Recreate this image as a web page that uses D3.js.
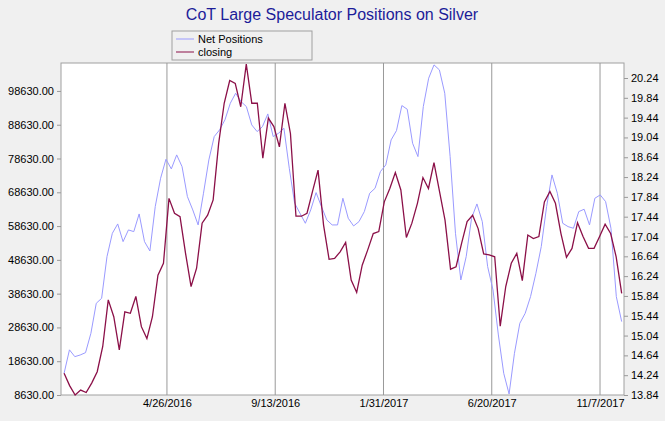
<!DOCTYPE html><html><head><meta charset="utf-8"><script src="https://cdn.jsdelivr.net/npm/d3@7"></script>
<style>body{margin:0;background:#f0f0f0}text{font-family:Arial,"Liberation Sans",sans-serif}</style></head><body><svg id="c" width="665" height="421"></svg><script>
const title="CoT Large Speculator Positions on Silver";
const seriesNames=["Net Positions","closing"];
const xTickDates=["4/26/2016","9/13/2016","1/31/2017","6/20/2017","11/7/2017"];
const leftTicks=[8630,18630,28630,38630,48630,58630,68630,78630,88630,98630];
const rightTicks=[13.84,14.24,14.64,15.04,15.44,15.84,16.24,16.64,17.04,17.44,17.84,18.24,18.64,19.04,19.44,19.84,20.24];
const startDate="12/15/2015", endDate="12/5/2017";
const netPositions=[15046,22000,19980,20474,21165,26890,35770,37250,49590,56500,59260,54030,57490,56990,62220,54030,51270,64400,72790,78410,75550,79700,76240,67360,63410,58970,68350,78220,85120,87100,90060,94990,97950,95480,94000,88580,86600,88080,91830,85120,86110,87590,75750,65380,62420,59460,63410,68540,64400,60450,58970,58970,66860,60940,58670,
59950,62920,68350,69820,74760,76730,84140,86900,94300,93220,83150,79200,94000,102400,106340,104860,97950,79200,56500,42680,49590,60940,65180,59950,46630,39720,26400,15050,8930,20970,29850,32810,37750,44650,52550,64400,73770,68350,59460,58470,57980,62920,63610,58970,66860,67850,65880,57980,37750,30350];
const closing=[14.28,14.03,13.84,13.94,13.89,14.08,14.31,14.82,15.76,15.42,14.75,15.52,15.49,15.83,15.22,14.98,15.42,16.26,16.50,17.81,17.51,17.44,16.70,16.03,16.40,17.31,17.47,17.78,18.92,19.73,20.19,20.13,19.66,20.52,19.73,19.73,18.62,19.43,19.26,18.85,19.73,19.12,17.45,17.45,17.51,17.95,18.38,17.27,16.58,16.60,16.73,16.92,16.16,15.91,
16.46,16.77,17.10,17.14,17.74,18.01,18.33,17.98,17.02,17.31,17.71,18.23,18.01,18.53,17.95,17.37,16.38,16.43,16.90,17.34,17.47,17.20,16.69,16.67,16.63,15.23,16.03,16.50,16.70,16.15,17.07,17.00,17.04,17.74,17.95,17.71,17.10,16.62,16.80,17.32,17.04,16.80,16.80,17.04,17.29,17.10,16.63,15.89];
const P=d3.timeParse("%m/%d/%Y");
const svg=d3.select("#c");
const L=61,R=624,T=63,B=395;
svg.append("rect").attr("x",L).attr("y",T).attr("width",R-L).attr("height",B-T).attr("fill","#fff").attr("stroke","#a0a0a0");
const x=d3.scaleTime().domain([P("12/11/2015"),P("12/8/2017")]).range([L,R]);
const yL=d3.scaleLinear().domain([8630,8630+332*296]).range([B,T]);
const yR=d3.scaleLinear().domain([13.84,13.84+332*0.02019]).range([B,T]);
const s=P(startDate).getTime(),e=P(endDate).getTime();
const dateAt=(i,n)=>new Date(s+(e-s)*i/(n-1));
xTickDates.forEach(d=>{const xx=x(P(d));svg.append("line").attr("x1",xx).attr("x2",xx).attr("y1",T).attr("y2",B).attr("stroke","#999");});
const gx=svg.append("g").attr("transform",`translate(0,${B})`).call(d3.axisBottom(x).tickValues(xTickDates.map(P)).tickFormat(d3.timeFormat("%-m/%-d/%Y")).tickSize(0).tickPadding(4));
gx.select(".domain").remove();
const gl=svg.append("g").attr("transform",`translate(${L},0)`).call(d3.axisLeft(yL).tickValues(leftTicks).tickFormat(d3.format(".2f")).tickSize(4));
gl.select(".domain").remove();
const gr=svg.append("g").attr("transform",`translate(${R},0)`).call(d3.axisRight(yR).tickValues(rightTicks).tickFormat(d3.format(".2f")).tickSize(4));
gr.select(".domain").remove();
svg.selectAll(".tick text").attr("font-size",11).attr("fill","#000").attr("font-family","Arial,Liberation Sans");
svg.selectAll(".tick line").attr("stroke","#999");
svg.append("path").datum(netPositions).attr("fill","none").attr("stroke","#9a9aff").attr("stroke-width",1)
 .attr("d",d3.line().x((d,i)=>x(dateAt(i,netPositions.length))).y(d=>yL(d)));
svg.append("path").datum(closing).attr("fill","none").attr("stroke","#8b1048").attr("stroke-width",1.3)
 .attr("d",d3.line().x((d,i)=>x(dateAt(i,closing.length))).y(d=>yR(d)));
svg.append("text").attr("x",332).attr("y",20).attr("text-anchor","middle").attr("font-size",16).attr("fill","#1c1c99").text(title);
const lg=svg.append("g").attr("transform","translate(172,31)");
lg.append("rect").attr("width",140).attr("height",29).attr("fill","#f0f0f0").attr("stroke","#a0a0a0");
[["#9a9aff",0],["#8b1048",1]].forEach(([c,i])=>{lg.append("line").attr("x1",4).attr("x2",22).attr("y1",8+i*13).attr("y2",8+i*13).attr("stroke",c);
lg.append("text").attr("x",26).attr("y",12+i*13).attr("font-size",11).text(seriesNames[i]);});
</script></body></html>
